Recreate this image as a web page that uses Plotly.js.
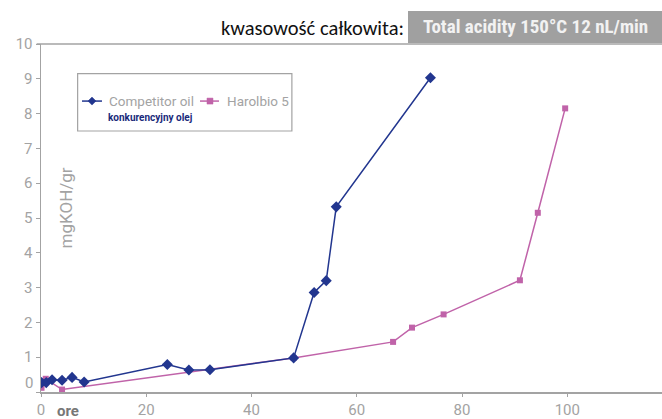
<!DOCTYPE html>
<html>
<head>
<meta charset="utf-8">
<script src="https://cdn.plot.ly/plotly-3.0.1.min.js"></script>
<style>html,body{margin:0;padding:0;background:#fff;}#chart{width:662px;height:419px;}</style>
</head>
<body>
<div id="chart"></div>
<script>
// Data
var competitorHours = [0.1, 1.0, 2.1, 4.0, 5.9, 8.2, 24.0, 28.1, 32.1, 48.0, 51.9, 54.2, 56.1, 74.0];
var competitorAcid  = [0.27, 0.27, 0.35, 0.34, 0.42, 0.29, 0.79, 0.63, 0.64, 0.98, 2.86, 3.20, 5.32, 9.03];
var harolbioHours = [0.1, 0.9, 4.0, 48.0, 66.9, 70.5, 76.5, 91.0, 94.4, 99.6];
var harolbioAcid  = [0.12, 0.38, 0.07, 0.98, 1.44, 1.85, 2.23, 3.21, 5.15, 8.15];
var seriesNames = ['Competitor oil', 'Harolbio 5'];
var xTicks = [0, 20, 40, 60, 80, 100];
var yTicks = [0, 1, 2, 3, 4, 5, 6, 7, 8, 9, 10];
var yTickText = ['', '1', '2', '3', '4', '5', '6', '7', '8', '9', '10'];

var blue = '#22368f';
var pink = '#c063a9';
var grey = '#a3a3a3';

var traces = [
  {x: harolbioHours, y: harolbioAcid, name: seriesNames[1], mode: 'lines+markers',
   line: {color: pink, width: 1.5}, marker: {symbol: 'square', size: 6, color: pink}},
  {x: competitorHours, y: competitorAcid, name: seriesNames[0], mode: 'lines+markers',
   line: {color: blue, width: 1.5}, marker: {symbol: 'diamond', size: 8.5, color: blue}}
];

var legY = 0.836;
var layout = {
  width: 662, height: 419,
  margin: {l: 41, r: 0, t: 44, b: 27},
  paper_bgcolor: '#fff', plot_bgcolor: '#fff',
  showlegend: false,
  xaxis: {range: [0, 118], tickvals: xTicks, showgrid: false, zeroline: false,
          showline: true, linecolor: grey, linewidth: 1.5, ticks: 'outside', ticklen: 3,
          tickcolor: grey, tickfont: {family: 'Roboto, sans-serif', size: 15, color: grey}},
  yaxis: {range: [0, 10], tickvals: yTicks, ticktext: yTickText, showgrid: false, zeroline: false,
          showline: true, linecolor: grey, linewidth: 1.5, ticks: 'outside', ticklen: 4,
          tickcolor: grey, tickfont: {family: 'Roboto, sans-serif', size: 15, color: grey}},
  shapes: [
    {type: 'line', xref: 'paper', yref: 'paper', x0: -0.007, x1: 1, y0: 1, y1: 1,
     line: {color: grey, width: 1.5}},
    {type: 'rect', xref: 'paper', yref: 'paper', x0: 0.059, x1: 0.404, y0: 0.75, y1: 0.915,
     line: {color: grey, width: 1.2}, fillcolor: 'rgba(0,0,0,0)'},
    {type: 'rect', xref: 'paper', yref: 'paper', x0: 0.591, x1: 1.0, y0: 1.003, y1: 1.095,
     line: {width: 0}, fillcolor: '#a0a0a0'},
    // legend keys
    {type: 'line', xref: 'paper', yref: 'paper', x0: 0.066, x1: 0.0982, y0: legY, y1: legY,
     line: {color: blue, width: 1.5}},
    {type: 'path', xref: 'paper', yref: 'paper', xsizemode: 'pixel', ysizemode: 'pixel',
     xanchor: 0.0821, yanchor: legY, path: 'M0,-4 L4,0 L0,4 L-4,0 Z',
     fillcolor: blue, line: {color: blue, width: 0.5}},
    {type: 'line', xref: 'paper', yref: 'paper', x0: 0.256, x1: 0.2866, y0: legY, y1: legY,
     line: {color: pink, width: 1.5}},
    {type: 'path', xref: 'paper', yref: 'paper', xsizemode: 'pixel', ysizemode: 'pixel',
     xanchor: 0.2721, yanchor: legY, path: 'M-3,-3 L3,-3 L3,3 L-3,3 Z',
     fillcolor: pink, line: {color: pink, width: 0.5}}
  ],
  annotations: [
    {xref: 'paper', yref: 'paper', x: 0.1063, y: legY, xanchor: 'left', yanchor: 'middle',
     text: seriesNames[0], showarrow: false,
     font: {family: 'Roboto, sans-serif', size: 13.5, color: grey}},
    {xref: 'paper', yref: 'paper', x: 0.2963, y: legY, xanchor: 'left', yanchor: 'middle',
     text: seriesNames[1], showarrow: false,
     font: {family: 'Roboto, sans-serif', size: 13.5, color: grey}},
    {xref: 'paper', yref: 'paper', x: 0.588, y: 1.047, xanchor: 'right', yanchor: 'middle',
     text: 'kwasowość całkowita:', showarrow: false,
     font: {family: 'Carlito, Liberation Sans, sans-serif', size: 20.5, color: '#111'}},
    {xref: 'paper', yref: 'paper', x: 0.797, y: 1.049, xanchor: 'center', yanchor: 'middle',
     text: '<b>Total acidity 150°C 12 nL/min</b>', showarrow: false,
     font: {family: 'Roboto Condensed, DejaVu Sans Condensed, Roboto, sans-serif', size: 19, color: '#f2f2f2'}},
    {xref: 'paper', yref: 'paper', x: 0.1047, y: 0.788, xanchor: 'left', yanchor: 'middle',
     text: '<b>konkurencyjny olej</b>', showarrow: false,
     font: {family: 'Roboto, sans-serif', size: 10, color: '#1a2a7a'}},
    {xref: 'paper', yref: 'paper', x: 0.04, y: 0.53, xanchor: 'center', yanchor: 'middle',
     text: 'mgKOH/gr', textangle: -90, showarrow: false,
     font: {family: 'Roboto, sans-serif', size: 17, color: grey}},
    {xref: 'paper', yref: 'paper', x: -0.01, y: 0.027, xanchor: 'right', yanchor: 'middle',
     text: '0', showarrow: false,
     font: {family: 'Roboto, sans-serif', size: 15, color: grey}},
    {xref: 'paper', yref: 'paper', x: 0.044, y: -0.055, xanchor: 'center', yanchor: 'middle',
     text: '<b>ore</b>', showarrow: false,
     font: {family: 'Roboto, sans-serif', size: 15, color: '#777'}}
  ]
};

Plotly.newPlot('chart', traces, layout, {displayModeBar: false, staticPlot: true});
</script>
</body>
</html>
